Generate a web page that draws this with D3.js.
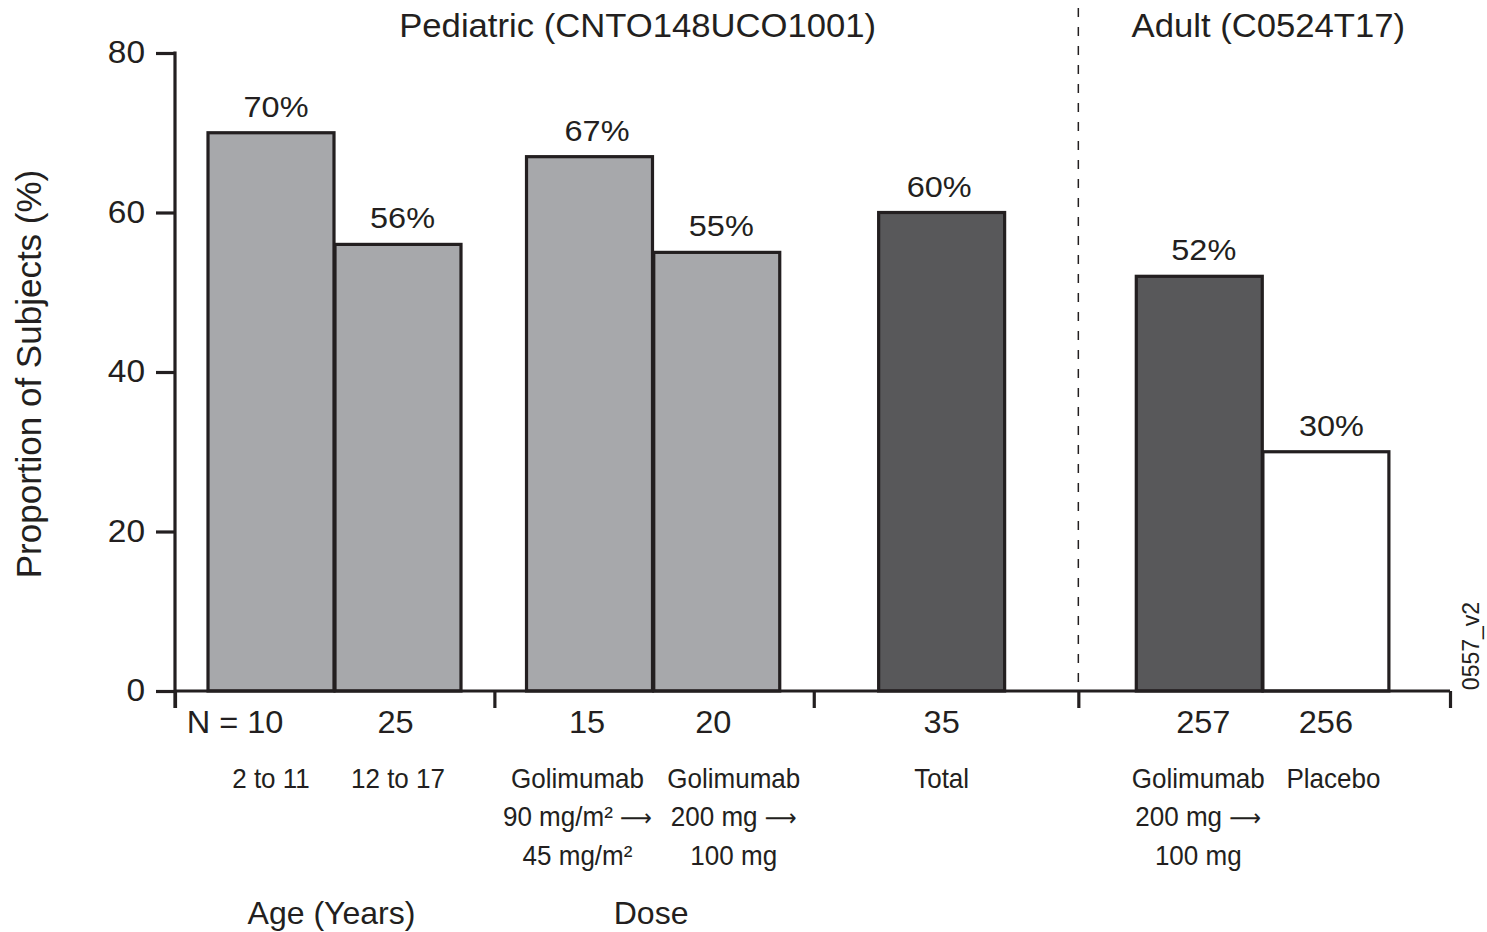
<!DOCTYPE html>
<html><head><meta charset="utf-8">
<script src="https://cdn.jsdelivr.net/npm/d3@7"></script>
<style>
html,body{margin:0;padding:0;background:#fff;}
text{font-family:"Liberation Sans",Arial,Helvetica,sans-serif;fill:#231f20;}
.arrow{font-family:"DejaVu Sans",sans-serif;}
</style></head>
<body>
<svg id="chart" width="1487" height="932"></svg>
<script>
// ---- data ----
const categories = [
  ["2 to 11"],
  ["12 to 17"],
  ["Golimumab", "90 mg/m² →", "45 mg/m²"],
  ["Golimumab", "200 mg →", "100 mg"],
  ["Total"],
  ["Golimumab", "200 mg →", "100 mg"],
  ["Placebo"]
];
const values = [70, 56, 67, 55, 60, 52, 30];
const nLabels = ["N = 10", "25", "15", "20", "35", "257", "256"];
const barKind = ["sub", "sub", "sub", "sub", "total", "total", "placebo"];
const yTicks = [0, 20, 40, 60, 80];
const groupTitles = ["Pediatric (CNTO148UCO1001)", "Adult (C0524T17)"];
const groupAxisLabels = ["Age (Years)", "Dose"];
const sideNote = "0557_v2";

// ---- layout (in bar-width units along x) ----
const barStart = [0.262, 1.27, 2.79, 3.80, 5.585, 7.63, 8.635];
const sepTicks = [0, 2.535, 5.07, 7.17, 10.12];
const catDx = [0, 0, -12, 17, 0, -1, 7.5];
const nDx = [-36, -2.5, -2.5, -3.5, 0, 4, 0];
const valDx = [5, 4.5, 7.5, 4.5, -2.5, 4.5, 5.5];

const svg = d3.select("#chart");
const x = d3.scaleLinear().domain([0, 10.12]).range([175, 1450]);
const y = d3.scaleLinear().domain([0, 80]).range([691, 53]);
const bw = x(1) - x(0);
const fills = {sub: "#a7a8ab", total: "#58585a", placebo: "#ffffff"};
const ink = "#231f20";
const cx = i => x(barStart[i]) + bw / 2;

// dashed separator
svg.append("line").attr("x1", x(sepTicks[3])).attr("x2", x(sepTicks[3]))
  .attr("y1", 8).attr("y2", y(0)).attr("stroke", ink).attr("stroke-width", 1.5)
  .attr("stroke-dasharray", "9,10");

// bars
svg.selectAll("rect.bar").data(values).join("rect").attr("class", "bar")
  .attr("x", (d, i) => x(barStart[i]))
  .attr("y", d => y(d))
  .attr("width", bw)
  .attr("height", d => y(0) - y(d))
  .attr("fill", (d, i) => fills[barKind[i]])
  .attr("stroke", ink).attr("stroke-width", 3.2);

// value labels
svg.selectAll("text.val").data(values).join("text").attr("class", "val")
  .attr("transform", (d, i) => `translate(${cx(i) + valDx[i]},${y(d) - 16}) scale(1.1,1)`)
  .attr("text-anchor", "middle").attr("font-size", 29.5)
  .text(d => d + "%");

// y axis
const yAxis = d3.axisLeft(y).tickValues(yTicks).tickSize(19).tickPadding(11);
const gy = svg.append("g").attr("transform", `translate(${x(0)},0)`).call(yAxis);
gy.select(".domain").remove();
gy.selectAll(".tick line").attr("stroke", ink).attr("stroke-width", 3.2);
gy.selectAll(".tick text").attr("font-size", 31).attr("fill", ink)
  .attr("font-family", '"Liberation Sans",Arial,sans-serif')
  .attr("x", -30 / 1.08).attr("transform", "scale(1.08,1)");
svg.append("line").attr("x1", x(0)).attr("x2", x(0)).attr("y1", y(80) - 1.5).attr("y2", 708)
  .attr("stroke", ink).attr("stroke-width", 3.2);

// x axis with separator ticks
const xAxis = d3.axisBottom(x).tickValues(sepTicks).tickSize(17).tickFormat("");
const gx = svg.append("g").attr("transform", `translate(0,${y(0)})`).call(xAxis);
gx.select(".domain").attr("stroke", ink).attr("stroke-width", 3.2).attr("d", `M${x(0)},0H${x(10.12)}`);
gx.selectAll(".tick line").attr("stroke", ink).attr("stroke-width", 3.2);

// N labels
svg.selectAll("text.n").data(nLabels).join("text").attr("class", "n")
  .attr("transform", (d, i) => `translate(${cx(i) + nDx[i]},733) scale(1.05,1)`)
  .attr("text-anchor", "middle").attr("font-size", 31)
  .text(d => d);

// category labels (multi-line, condensed)
const cat = svg.selectAll("text.cat").data(categories).join("text").attr("class", "cat")
  .attr("text-anchor", "middle").attr("font-size", 28)
  .attr("transform", (d, i) => `translate(${cx(i) + catDx[i]},788) scale(0.93,1)`);
cat.each(function (lines) {
  const t = d3.select(this);
  lines.forEach((ln, k) => {
    const ts = t.append("tspan").attr("x", 0).attr("y", k * 38.5);
    const parts = ln.split("→");
    ts.append("tspan").text(parts[0]);
    if (parts.length > 1) {
      ts.append("tspan").attr("class", "arrow").attr("font-size", 24).text("⟶");
      ts.append("tspan").text(parts[1]);
    }
  });
});

// group axis labels
const gLabX = [(x(barStart[0]) + x(barStart[1]) + bw) / 2 - 3, (x(barStart[2]) + x(barStart[3]) + bw) / 2 - 2];
svg.selectAll("text.glab").data(groupAxisLabels).join("text").attr("class", "glab")
  .attr("transform", (d, i) => `translate(${gLabX[i]},924) scale(1.05,1)`)
  .attr("text-anchor", "middle").attr("font-size", 30.5).text(d => d);

// group titles
const titleX = [x(sepTicks[0]) + (x(sepTicks[3]) - x(sepTicks[0])) / 2 + 11, x(barStart[5]) + bw + 6];
svg.selectAll("text.gt").data(groupTitles).join("text").attr("class", "gt")
  .attr("transform", (d, i) => `translate(${titleX[i]},37) scale(1.05,1)`)
  .attr("text-anchor", "middle").attr("font-size", 33).text(d => d);

// y title
svg.append("text").attr("transform", "translate(41,374) rotate(-90)")
  .attr("text-anchor", "middle").attr("font-size", 35).text("Proportion of Subjects (%)");

// side note
svg.append("text").attr("transform", "translate(1479,646) rotate(-90)")
  .attr("text-anchor", "middle").attr("font-size", 23).text(sideNote);
</script>
</body></html>
